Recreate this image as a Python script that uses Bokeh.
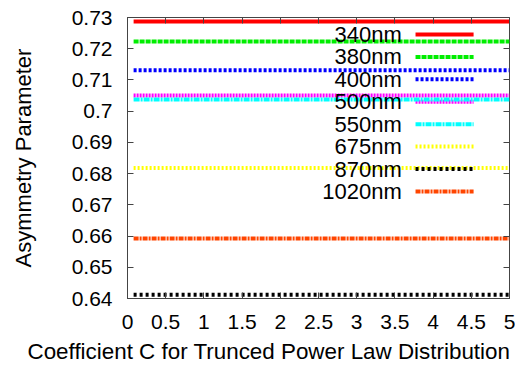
from bokeh.plotting import figure
from bokeh.models import LinearAxis, Range1d, Label, FixedTicker, CustomLabelingPolicy, Title
from bokeh.embed import file_html
from bokeh.resources import INLINE

wavelengths = ["340nm", "380nm", "400nm", "500nm", "550nm", "675nm", "870nm", "1020nm"]
asym_values = [0.7287, 0.7223, 0.7131, 0.7050, 0.7037, 0.6818, 0.6412, 0.6592]
colors = ["#ff0000", "#00ee00", "#0000ff", "#ff00ff", "#00ffff", "#ffff00", "#000000", "#ff4500"]
dashes = ["solid", "5 1", "3 2", "2 1", "6 1 2 1", "2 2", "3 3", "5 1 2 1"]
coef_c = [0.08, 5.0]
x_ticks = [0, 0.5, 1, 1.5, 2, 2.5, 3, 3.5, 4, 4.5, 5]
y_ticks = [0.64, 0.65, 0.66, 0.67, 0.68, 0.69, 0.70, 0.71, 0.72, 0.73]
x_tick_labels = {0: "0", 0.5: "0.5", 1: "1", 1.5: "1.5", 2: "2", 2.5: "2.5", 3: "3", 3.5: "3.5", 4: "4", 4.5: "4.5", 5: "5"}
y_tick_labels = {0.64: "0.64", 0.65: "0.65", 0.66: "0.66", 0.67: "0.67", 0.68: "0.68", 0.69: "0.69", 0.70: "0.7", 0.71: "0.71", 0.72: "0.72", 0.73: "0.73"}
x_title = "Coefficient C for Trunced Power Law Distribution"
y_title = "Asymmetry Parameter"

FONT = "Liberation Sans"

p = figure(width=515, height=371, output_backend="svg", toolbar_location=None,
           x_range=Range1d(0, 5), y_range=Range1d(0.64, 0.73),
           min_border_left=127, min_border_right=6, min_border_top=17, min_border_bottom=73)
p.background_fill_color = "white"
p.border_fill_color = "white"
p.outline_line_color = "#444444"
p.outline_line_width = 1
p.xgrid.visible = False
p.ygrid.visible = False

for ax in (p.xaxis[0], p.yaxis[0]):
    ax.major_tick_in = 6
    ax.major_tick_out = 0
    ax.minor_tick_in = 0
    ax.minor_tick_out = 0
    ax.axis_line_color = "#444444"
    ax.major_tick_line_color = "#444444"
    ax.major_label_text_font = FONT
    ax.major_label_text_font_size = "21px"
    ax.major_label_text_color = "black"
    ax.axis_label_text_font = FONT
    ax.axis_label_text_font_size = "22px"
    ax.axis_label_text_font_style = "normal"
    ax.axis_label_text_color = "black"

p.xaxis[0].ticker = FixedTicker(ticks=x_ticks)
p.xaxis[0].major_label_overrides = x_tick_labels
p.yaxis[0].ticker = FixedTicker(ticks=y_ticks)
p.yaxis[0].major_label_overrides = y_tick_labels
p.yaxis[0].axis_label = y_title
p.xaxis[0].major_label_standoff = 16
p.yaxis[0].major_label_standoff = 15
p.yaxis[0].axis_label_standoff = 33

top = LinearAxis(ticker=FixedTicker(ticks=x_ticks), major_tick_in=6, major_tick_out=0,
                 minor_tick_in=0, minor_tick_out=0,
                 major_label_policy=CustomLabelingPolicy(code="return new Set()"),
                 major_label_text_font_size="1px",
                 axis_line_color=None, major_tick_line_color="#444444", major_label_standoff=0)
right = LinearAxis(ticker=FixedTicker(ticks=y_ticks), major_tick_in=6, major_tick_out=0,
                   minor_tick_in=0, minor_tick_out=0,
                   major_label_policy=CustomLabelingPolicy(code="return new Set()"),
                   major_label_text_font_size="1px",
                   axis_line_color=None, major_tick_line_color="#444444", major_label_standoff=0)
p.add_layout(top, "above")
p.add_layout(right, "right")

p.add_layout(Title(text=x_title, align="left", offset=-100, standoff=11,
                   text_font=FONT, text_font_size="22.4px", text_font_style="normal",
                   text_color="black"), "below")

for i, (name, val, col, dash) in enumerate(zip(wavelengths, asym_values, colors, dashes)):
    p.line(coef_c, [val, val], line_color=col, line_width=4, line_dash=dash)
    # legend entry: label on left, sample line on right
    ly = 0.72455 - i * 0.00718
    p.line([3.77, 4.53], [ly, ly], line_color=col, line_width=4, line_dash=dash)
    p.add_layout(Label(x=3.59, y=ly, text=name, text_align="right", text_baseline="middle",
                       text_font=FONT, text_font_size="22px", text_color="black"))

open("out.html", "w").write(file_html(p, INLINE))
